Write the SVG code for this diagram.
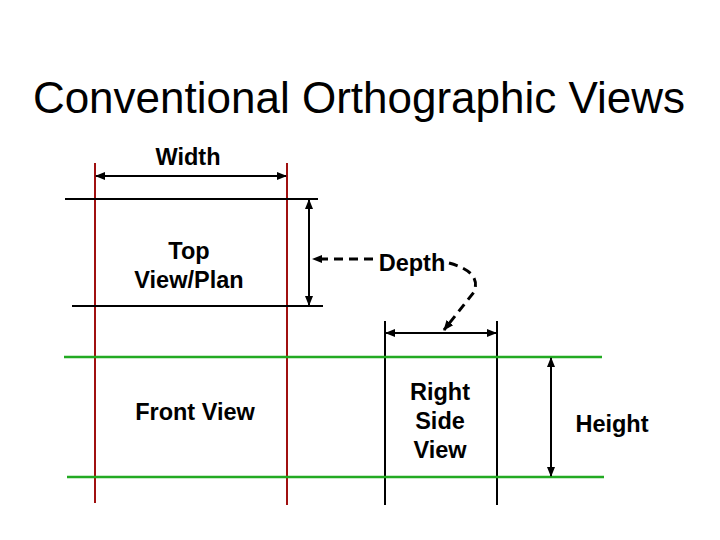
<svg xmlns="http://www.w3.org/2000/svg" width="720" height="540" viewBox="0 0 720 540">
<style>
text{font-family:"Liberation Sans",Arial,sans-serif;fill:#000;text-anchor:middle}
.lbl{font-size:23.5px;font-weight:bold}
.title{font-size:44px}
.red{stroke:#a01010;stroke-width:2;fill:none}
.grn{stroke:#22aa22;stroke-width:2.5;fill:none}
.blk{stroke:#000;stroke-width:2;fill:none}
.dim{stroke:#000;stroke-width:2;fill:none;marker-start:url(#ah);marker-end:url(#ah)}
.dash{stroke:#000;stroke-width:3;fill:none;stroke-dasharray:9 6}
</style>
<defs>
<marker id="ah" viewBox="0 0 10 10" refX="9" refY="5" markerWidth="5" markerHeight="5" orient="auto-start-reverse" markerUnits="strokeWidth">
<path d="M0,1 L10,5 L0,9 Z" fill="#000"/>
</marker>
<marker id="ah2" viewBox="0 0 10 10" refX="9" refY="5" markerWidth="3.5" markerHeight="3.5" orient="auto" markerUnits="strokeWidth">
<path d="M0,1 L10,5 L0,9 Z" fill="#000"/>
</marker>
</defs>
<text class="title" x="359" y="113">Conventional Orthographic Views</text>
<g id="guides">
<line class="red" x1="95" y1="163" x2="95" y2="503"/>
<line class="red" x1="287" y1="163" x2="287" y2="505"/>
<line class="blk" x1="65" y1="199" x2="318" y2="199"/>
<line class="blk" x1="72" y1="306" x2="323" y2="306"/>
<line class="blk" x1="385" y1="321" x2="385" y2="505"/>
<line class="blk" x1="497" y1="321" x2="497" y2="505"/>
<line class="grn" x1="64" y1="357" x2="602" y2="357"/>
<line class="grn" x1="67" y1="477" x2="604" y2="477"/>
</g>
<g id="top-view"><text class="lbl" x="189" y="259">Top</text><text class="lbl" x="189" y="288">View/Plan</text></g>
<g id="front-view"><text class="lbl" x="195" y="420">Front View</text></g>
<g id="right-side-view"><text class="lbl" x="440" y="400">Right</text><text class="lbl" x="440" y="429">Side</text><text class="lbl" x="440" y="458">View</text></g>
<g id="width-label"><text class="lbl" x="188" y="165">Width</text></g>
<g id="depth-label"><text class="lbl" x="412" y="271">Depth</text></g>
<g id="height-label"><text class="lbl" x="612" y="432">Height</text></g>
<g id="connectors">
<line class="dim" x1="96" y1="176" x2="286" y2="176"/>
<line class="dim" x1="309" y1="200" x2="309" y2="305"/>
<line class="dim" x1="386" y1="333" x2="496" y2="333"/>
<line class="dim" x1="551" y1="358" x2="551" y2="476"/>
<line class="dash" x1="373" y1="259" x2="313" y2="259" marker-end="url(#ah2)"/>
<path class="dash" d="M449,263 Q482,272 474,292 L444,330" marker-end="url(#ah2)"/>
</g>
</svg>
